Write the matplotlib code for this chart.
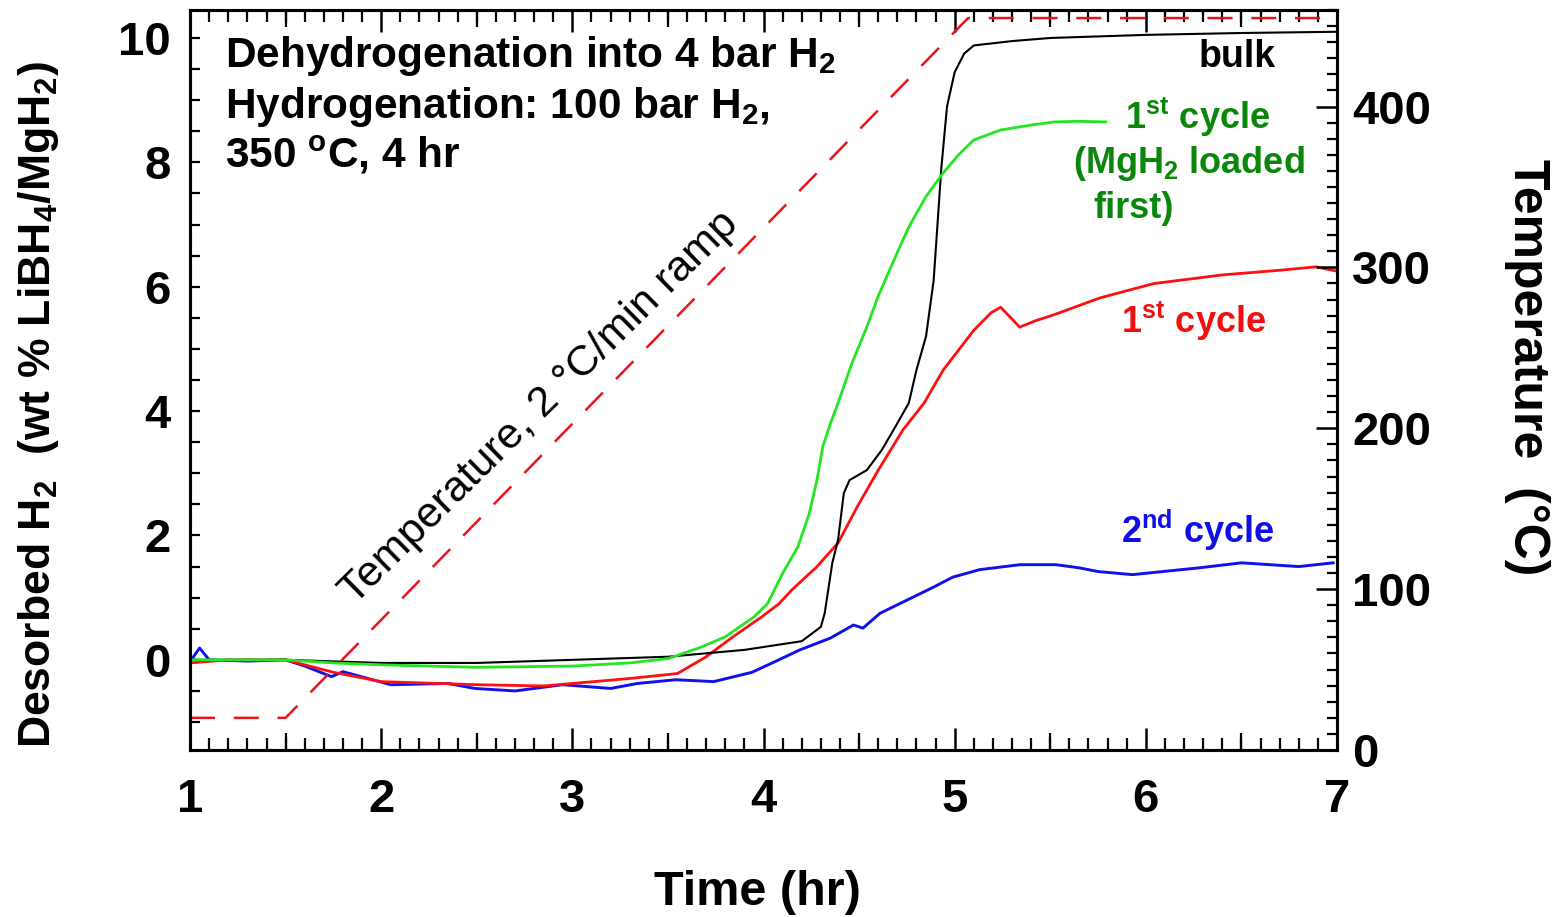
import matplotlib
matplotlib.use("Agg")
import matplotlib.pyplot as plt
from matplotlib.ticker import MultipleLocator, FixedLocator

plt.rcParams['font.family'] = ['Liberation Sans', 'DejaVu Sans']
plt.rcParams['mathtext.fontset'] = 'custom'
plt.rcParams['mathtext.rm'] = 'Liberation Sans'
plt.rcParams['mathtext.bf'] = 'Liberation Sans:bold'
plt.rcParams['mathtext.it'] = 'Liberation Sans:italic'

# desorbed H2 (wt %) vs time (hr)
bulk_t = [1.0, 1.5, 2.0, 2.5, 3.0, 3.5, 3.9, 4.2, 4.3, 4.32, 4.36, 4.39, 4.42, 4.45,
          4.54, 4.62, 4.69, 4.76, 4.80, 4.85, 4.89, 4.93, 4.96, 5.0, 5.05, 5.1, 5.3,
          5.5, 6.0, 6.5, 7.0]
bulk_v = [0.0, 0.0, -0.05, -0.05, 0.0, 0.05, 0.16, 0.3, 0.53, 0.75, 1.56, 1.93, 2.68, 2.89,
          3.05, 3.38, 3.75, 4.13, 4.66, 5.2, 6.1, 7.9, 8.9, 9.45, 9.75, 9.88, 9.95,
          10.0, 10.05, 10.08, 10.1]

mgh2_first_t = [1.0, 1.5, 1.75, 2.0, 2.5, 3.0, 3.3, 3.5, 3.67, 3.8, 3.95, 4.02, 4.1, 4.18,
                4.24, 4.28, 4.31, 4.35, 4.39, 4.46, 4.54, 4.6, 4.65, 4.7, 4.76, 4.85, 4.94,
                5.02, 5.1, 5.24, 5.4, 5.52, 5.65, 5.79]
mgh2_first_v = [0.0, 0.0, -0.05, -0.08, -0.12, -0.1, -0.05, 0.02, 0.2, 0.37, 0.69, 0.9, 1.39, 1.82,
                2.36, 2.9, 3.43, 3.8, 4.13, 4.75, 5.35, 5.85, 6.2, 6.55, 6.96, 7.45, 7.83,
                8.12, 8.36, 8.52, 8.6, 8.65, 8.66, 8.65]

cycle1_t = [1.0, 1.2, 1.5, 1.75, 2.0, 2.3, 2.5, 2.85, 3.0, 3.3, 3.55, 3.7, 3.84, 3.99, 4.08,
            4.15, 4.28, 4.39, 4.49, 4.6, 4.73, 4.84, 4.94, 5.02, 5.1, 5.19, 5.24, 5.3, 5.34,
            5.42, 5.52, 5.76, 6.04, 6.4, 6.72, 6.89, 7.0]
cycle1_v = [-0.05, 0.0, 0.0, -0.2, -0.35, -0.38, -0.4, -0.42, -0.38, -0.3, -0.22, 0.05, 0.37, 0.69, 0.9,
            1.13, 1.5, 1.88, 2.46, 3.05, 3.7, 4.13, 4.66, 4.98, 5.3, 5.58, 5.67, 5.48, 5.35,
            5.45, 5.55, 5.82, 6.05, 6.19, 6.27, 6.32, 6.25]

cycle2_t = [1.0, 1.05, 1.1, 1.3, 1.5, 1.6, 1.74, 1.8, 2.05, 2.35, 2.49, 2.7, 2.95, 3.2, 3.34,
            3.54, 3.74, 3.94, 4.08, 4.19, 4.35, 4.47, 4.52, 4.61, 4.75, 4.89, 4.99, 5.13,
            5.34, 5.53, 5.65, 5.75, 5.93, 6.28, 6.5, 6.8, 6.98]
cycle2_v = [-0.03, 0.19, 0.0, -0.02, 0.0, -0.1, -0.27, -0.19, -0.4, -0.38, -0.46, -0.5, -0.4, -0.46, -0.38,
            -0.32, -0.35, -0.2, 0.0, 0.16, 0.35, 0.56, 0.51, 0.75, 0.96, 1.17, 1.33, 1.45,
            1.53, 1.53, 1.48, 1.42, 1.37, 1.48, 1.56, 1.5, 1.56]

# temperature program (deg C)
temp_t = [1.0, 1.5, 5.07, 7.0]
temp_v = [20, 20, 455, 455]

fig = plt.figure(figsize=(15.59, 9.17), dpi=100)
ax = fig.add_axes([0.1219, 0.1821, 0.7357, 0.807])
ax2 = ax.twinx()

ax.plot(bulk_t, bulk_v, color='black', lw=1.5, zorder=5)
ax.plot(cycle1_t, cycle1_v, color='#ff1010', lw=2.0, zorder=4)
ax.plot(mgh2_first_t, mgh2_first_v, color='#22e622', lw=2.0, zorder=6)
ax.plot(cycle2_t, cycle2_v, color='#1010ee', lw=2.1, zorder=3)

ax2.plot(temp_t, temp_v, color='#e8141c', lw=1.8, dashes=(10, 7.5))

ax.set_xlim(1, 7)
ax.set_ylim(-1.45, 10.45)
ax2.set_ylim(0, 460)

ax.xaxis.set_major_locator(MultipleLocator(1))
ax.xaxis.set_minor_locator(MultipleLocator(0.1))
ax.yaxis.set_major_locator(MultipleLocator(2))
ax.yaxis.set_minor_locator(MultipleLocator(0.5))
ax.tick_params(axis='x', which='major', direction='in', length=16, width=1.8,
               top=True, pad=20, labelsize=34)
ax.tick_params(axis='x', which='minor', direction='in', length=8.5, width=1.6, top=True)
ax.tick_params(axis='y', which='both', direction='in', length=7.5, width=1.6,
               right=False, pad=14, labelsize=34)
for lab in ax.get_xticklabels() + ax.get_yticklabels():
    lab.set_fontweight('bold')

# half-hour ticks a bit longer than the minor ones
for side in ['bottom', 'top']:
    sec = ax.secondary_xaxis(side)
    sec.xaxis.set_major_locator(FixedLocator([1.5, 2.5, 3.5, 4.5, 5.5, 6.5]))
    sec.tick_params(direction='in', length=12.5, width=1.6,
                    labelbottom=False, labeltop=False)
    for s in sec.spines.values():
        s.set_visible(False)

ax2.yaxis.set_major_locator(MultipleLocator(100))
ax2.yaxis.set_minor_locator(MultipleLocator(10))
ax2.tick_params(axis='y', which='major', direction='in', length=15, width=1.8,
                pad=11, labelsize=34)
ax2.tick_params(axis='y', which='minor', direction='in', length=7, width=1.6)
for lab in ax2.get_yticklabels():
    lab.set_fontweight('bold')

for s in list(ax.spines.values()) + list(ax2.spines.values()):
    s.set_linewidth(2.2)

ax.set_xlabel('Time (hr)', fontsize=35, fontweight='bold')
ax.xaxis.set_label_coords(0.495, -0.162)
ax.set_ylabel(r'Desorbed H$_\mathbf{2}$  (wt % LiBH$_\mathbf{4}$/MgH$_\mathbf{2}$)',
              fontsize=32, fontweight='bold', va='center')
ax.yaxis.set_label_coords(-0.1325, 0.4676)
ax2.set_ylabel('Temperature  (\u00b0C)', fontsize=36, fontweight='bold',
               rotation=-90, va='center')
ax2.yaxis.set_label_coords(1.1657, 0.5176)

# annotations
ann = dict(transform=ax.transAxes, fontsize=30.5, fontweight='bold', ha='left', va='baseline')
ax.text(0.0305, 0.923, r'Dehydrogenation into 4 bar H$_\mathbf{2}$', **ann)
ax.text(0.0305, 0.854, r'Hydrogenation: 100 bar H$_\mathbf{2}$,', **ann)
ax.text(0.0305, 0.7865, r'350 $^\mathbf{o}$C, 4 hr', **ann)

ax.text(0.879, 0.923, 'bulk', transform=ax.transAxes, fontsize=27, fontweight='bold',
        ha='left', va='baseline')

grn = dict(transform=ax.transAxes, fontsize=26, fontweight='bold', color='#0a870a',
           ha='left', va='baseline')
ax.text(0.8152, 0.8392, r'1$^\mathbf{st}$ cycle', **grn)
ax.text(0.7698, 0.7797, r'(MgH$_\mathbf{2}$ loaded', **grn)
ax.text(0.7873, 0.7189, 'first)', **grn)

ax.text(0.8113, 0.5635, r'1$^\mathbf{st}$ cycle', transform=ax.transAxes, fontsize=26,
        fontweight='bold', color='#f01010', ha='left', va='baseline')
ax.text(0.8113, 0.2797, r'2$^\mathbf{nd}$ cycle', transform=ax.transAxes, fontsize=26,
        fontweight='bold', color='#1010e6', ha='left', va='baseline')

ax.text(2.83, 4.05, 'Temperature, 2 \u00b0C/min ramp', fontsize=31, rotation=44.6,
        ha='center', va='center')

fig.savefig('out.png', dpi=100)
